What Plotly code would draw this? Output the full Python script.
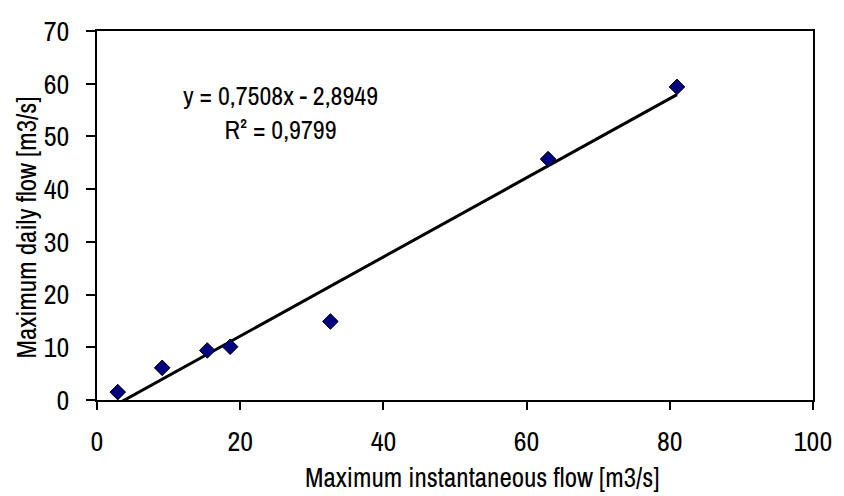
import plotly.graph_objects as go

# Data
inst_flow = [2.9, 9.1, 15.4, 18.6, 32.6, 63.0, 81.0]
daily_flow = [1.5, 6.1, 9.4, 10.1, 14.9, 45.7, 59.4]
slope = 0.7508
intercept = -2.8949
r2 = 0.9799
x_ticks = [0, 20, 40, 60, 80, 100]
y_ticks = [0, 10, 20, 30, 40, 50, 60, 70]

FONT = "Archivo Narrow, Roboto Condensed, Arial Narrow, sans-serif"
FS_TICK = 28
FS_TXT = 27

x_line = [min(inst_flow), max(inst_flow)]
y_line = [slope * v + intercept for v in x_line]

fig = go.Figure()
fig.add_trace(go.Scatter(
    x=x_line, y=y_line, mode="lines",
    line=dict(color="black", width=3), hoverinfo="skip", showlegend=False,
))
fig.add_trace(go.Scatter(
    x=inst_flow, y=daily_flow, mode="markers",
    marker=dict(symbol="diamond", size=12, color="#000080",
                line=dict(color="black", width=1)),
    showlegend=False, cliponaxis=False,
))

W, H = 844, 496
ml, mr, mt, mb = 97, 22, 21, 96
pw, ph = W - ml - mr, H - mt - mb

def px_to_paper_x(px):
    return (px - ml) / pw

def px_to_paper_y(py):
    return (H - mb - py) / ph

def fmt(v):
    return str(v).replace('.', ',')

fig.add_annotation(
    x=px_to_paper_x(283), y=px_to_paper_y(105), xref="paper", yref="paper",
    text=f"y = {fmt(slope)}x - {fmt(-intercept)}<br>R² = {fmt(r2)}",
    showarrow=False, align="center", xanchor="center", yanchor="middle",
    font=dict(family=FONT, size=26, color="black"),
)
fig.add_annotation(
    x=px_to_paper_x(487), y=px_to_paper_y(479), xref="paper", yref="paper",
    text="Maximum instantaneous flow [m3/s]", showarrow=False,
    xanchor="center", yanchor="middle",
    font=dict(family=FONT, size=FS_TXT, color="black"),
)
fig.add_annotation(
    x=px_to_paper_x(25), y=px_to_paper_y(223), xref="paper", yref="paper",
    text="Maximum daily flow [m3/s]", showarrow=False, textangle=-90,
    xanchor="center", yanchor="middle",
    font=dict(family=FONT, size=FS_TXT, color="black"),
)

fig.update_layout(
    width=W, height=H,
    margin=dict(l=ml, r=mr, t=mt, b=mb),
    paper_bgcolor="white", plot_bgcolor="white",
    font=dict(family=FONT, size=FS_TICK, color="black"),
    xaxis=dict(
        range=[0, 100], tickvals=x_ticks, ticks="outside", ticklen=8, tickwidth=2,
        tickcolor="black", showline=True, linewidth=2, linecolor="black",
        mirror=True, showgrid=False, zeroline=False,
        tickfont=dict(family=FONT, size=FS_TICK), ticklabelstandoff=7,
    ),
    yaxis=dict(
        range=[0, 70], tickvals=y_ticks, ticks="outside", ticklen=9, tickwidth=2,
        tickcolor="black", showline=True, linewidth=2, linecolor="black",
        mirror=True, showgrid=False, zeroline=False,
        tickfont=dict(family=FONT, size=FS_TICK), ticklabelstandoff=11,
    ),
)

fig.write_html("out.html")
